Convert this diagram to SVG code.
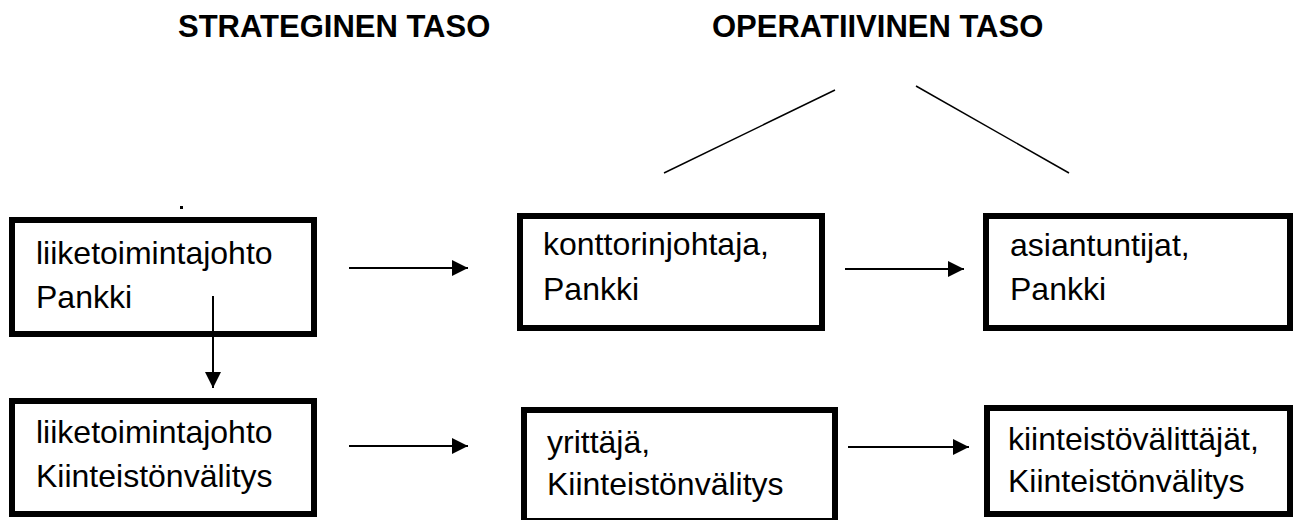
<svg xmlns="http://www.w3.org/2000/svg" width="1294" height="520" viewBox="0 0 1294 520">
  <style>
    .box { fill: #ffffff; stroke: #000000; stroke-width: 6; }
    .label { font-family: "Liberation Sans", Arial, sans-serif; font-size: 32px; fill: #000000; }
    .title { font-family: "Liberation Sans", Arial, sans-serif; font-size: 31px; font-weight: bold; fill: #000000; }
    .conn { stroke: #000000; stroke-width: 2; fill: none; }
    .thin { stroke: #000000; stroke-width: 1.5; fill: none; }
  </style>
  <defs>
    <marker id="arrow" viewBox="0 0 16 16" refX="16" refY="8" markerWidth="16" markerHeight="16" markerUnits="userSpaceOnUse" orient="auto">
      <path d="M0,0 L16,8 L0,16 Z" fill="#000000"/>
    </marker>
  </defs>
  <rect width="1294" height="520" fill="#ffffff"/>

  <!-- level headings -->
  <g id="headings">
    <text class="title" x="178" y="37">STRATEGINEN TASO</text>
    <text class="title" x="712" y="37">OPERATIIVINEN TASO</text>
  </g>

  <!-- stray dot above the first box -->
  <rect x="180" y="206" width="3" height="3" fill="#000000"/>

  <g id="node-liiketoimintajohto-pankki">
    <rect class="box" x="12" y="220" width="302" height="114"/>
    <text class="label" x="36" y="264">liiketoimintajohto</text>
    <text class="label" x="36" y="308">Pankki</text>
  </g>

  <g id="node-konttorinjohtaja">
    <rect class="box" x="520" y="216" width="302" height="112"/>
    <text class="label" x="543" y="255">konttorinjohtaja,</text>
    <text class="label" x="543" y="300">Pankki</text>
  </g>

  <g id="node-asiantuntijat">
    <rect class="box" x="986" y="216" width="304" height="112"/>
    <text class="label" x="1010" y="256">asiantuntijat,</text>
    <text class="label" x="1010" y="300">Pankki</text>
  </g>

  <g id="node-liiketoimintajohto-kv">
    <rect class="box" x="12" y="401" width="302" height="113"/>
    <text class="label" x="36" y="443">liiketoimintajohto</text>
    <text class="label" x="36" y="487">Kiinteistönvälitys</text>
  </g>

  <g id="node-yrittaja">
    <rect class="box" x="524" y="410" width="311" height="111"/>
    <text class="label" x="547" y="453">yrittäjä,</text>
    <text class="label" x="547" y="495">Kiinteistönvälitys</text>
  </g>

  <g id="node-kiinteistovalittajat">
    <rect class="box" x="987" y="408" width="303" height="106"/>
    <text class="label" x="1008" y="450">kiinteistövälittäjät,</text>
    <text class="label" x="1008" y="492">Kiinteistönvälitys</text>
  </g>

  <g id="connectors">
    <line class="conn" x1="349" y1="268" x2="468" y2="268" marker-end="url(#arrow)"/>
    <line class="conn" x1="845" y1="269" x2="964" y2="269" marker-end="url(#arrow)"/>
    <line class="conn" x1="213" y1="296" x2="213" y2="388" marker-end="url(#arrow)"/>
    <line class="conn" x1="349" y1="446" x2="468" y2="446" marker-end="url(#arrow)"/>
    <line class="conn" x1="848" y1="447" x2="969" y2="447" marker-end="url(#arrow)"/>
    <line class="thin" x1="664" y1="173" x2="835" y2="90"/>
    <line class="thin" x1="916" y1="86" x2="1069" y2="173"/>
  </g>
</svg>
